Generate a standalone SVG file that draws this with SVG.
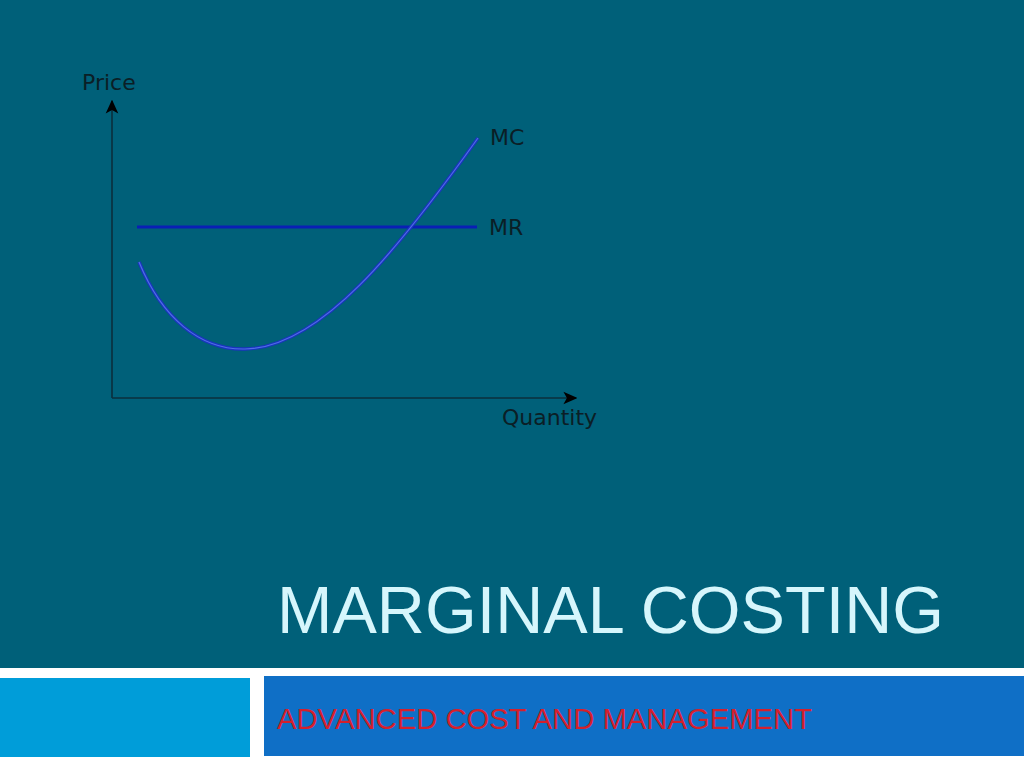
<svg xmlns="http://www.w3.org/2000/svg" width="1024" height="768" viewBox="0 0 1024 768">
<defs>
<style>
.lbl{font-family:"DejaVu Sans",sans-serif;font-size:22px;fill:#0b1e26}
.axis{stroke:#0b2f3c;stroke-width:1.6;fill:none}
.mco{fill:none;stroke:#1a33c0;stroke-width:3.4}
.mci{fill:none;stroke:#4f6fe4;stroke-width:1.2}
</style>
<marker id="arr" viewBox="0 0 10 10" refX="9" refY="5" markerWidth="14" markerHeight="14" markerUnits="userSpaceOnUse" orient="auto">
<path d="M0,0.5 L10,5 L0,9.5 L2.5,5 z" fill="#000"/>
</marker>
</defs>
<rect x="0" y="0" width="1024" height="768" fill="#ffffff"/>
<rect x="0" y="0" width="1024" height="668" fill="#006079"/>
<rect x="0" y="678" width="250" height="79" fill="#009dd9"/>
<rect x="264" y="676" width="760" height="80" fill="#0f6fc6"/>
<g id="connectors">
<line class="axis" x1="112" y1="398" x2="112" y2="101" marker-end="url(#arr)"/>
<line class="axis" x1="112" y1="398" x2="576" y2="398" marker-end="url(#arr)"/>
</g>
<g id="mr">
<line x1="137" y1="227" x2="477" y2="227" stroke="#0a1fb5" stroke-width="3"/>
<text class="lbl" x="489" y="235">MR</text>
</g>
<g id="mc">
<path class="mco" d="M139,262 C162,318 200,350 245,349 C320,348 398,250 478,138"/>
<path class="mci" d="M139,262 C162,318 200,350 245,349 C320,348 398,250 478,138"/>
<text class="lbl" x="490" y="145">MC</text>
</g>
<g id="price"><text class="lbl" x="82" y="90">Price</text></g>
<g id="quantity"><text class="lbl" x="502" y="425">Quantity</text></g>
<g id="title"><text x="277" y="633" font-family="'Liberation Sans',sans-serif" font-size="67" fill="#d6f6fc" textLength="667" lengthAdjust="spacingAndGlyphs">MARGINAL COSTING</text></g>
<g id="subtitle"><text x="277" y="729" font-family="'Liberation Sans',sans-serif" font-size="30" fill="#d4202c" textLength="535" lengthAdjust="spacingAndGlyphs">ADVANCED COST AND MANAGEMENT</text></g>
</svg>
